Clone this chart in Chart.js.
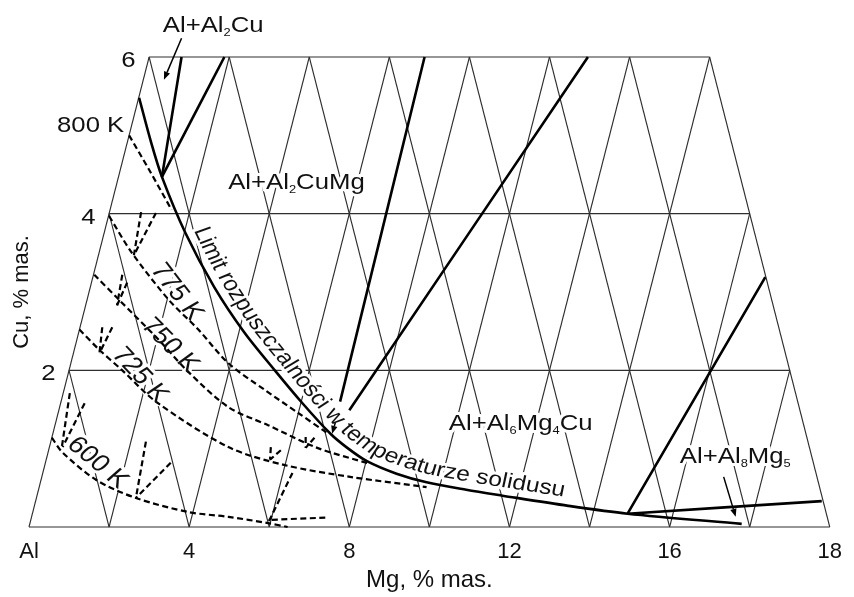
<!DOCTYPE html>
<html>
<head>
<meta charset="utf-8">
<script src="https://cdn.jsdelivr.net/npm/chart.js@4.4.1/dist/chart.umd.min.js"></script>
<style>
  html, body { margin: 0; padding: 0; background: #fff; }
</style>
</head>
<body>
<canvas id="chart" width="854" height="597"></canvas>
<script>
// x = Mg position in diagram units (bottom nodes every 2), y = Cu, % mas.
const xTickValues = [0, 4, 8, 12, 16, 20];
const xTickLabels = ["Al", "4", "8", "12", "16", "18"];
const cuLevels = [0, 2, 4, 6];
const cuTickLabels = ["2", "4", "6"];
const gridNodes = [0, 2, 4, 6, 8, 10, 12, 14, 16, 18, 20];

// solubility limit at the solidus temperature
const solidus = [[2.75, 5.48], [3.05, 4.91], [3.32, 4.47], [3.91, 3.75], [4.63, 3.06], [5.37, 2.49],
  [6.14, 2.00], [6.83, 1.58], [7.53, 1.19], [7.95, 1.01], [8.44, 0.84], [9.18, 0.68],
  [9.93, 0.57], [10.92, 0.475], [11.83, 0.40], [13.47, 0.27], [14.95, 0.17], [17.80, 0.04]];

// isotherms (dashed)
const k800 = [[2.50, 5.00], [3.00, 4.56], [3.56, 4.05]];
const k775 = [[2.00, 3.97], [2.57, 3.50], [3.49, 2.90], [4.23, 2.52], [4.98, 2.09], [5.89, 1.75], [6.71, 1.46], [7.45, 1.20]];
const k750 = [[1.63, 3.22], [2.25, 2.90], [3.24, 2.39], [3.98, 1.98], [4.98, 1.53], [5.97, 1.30], [7.20, 1.01], [8.49, 0.81]];
const k725 = [[1.26, 2.52], [1.76, 2.26], [2.33, 2.00], [3.17, 1.60], [4.98, 1.02], [6.39, 0.79], [8.02, 0.64], [9.93, 0.51]];
const k600 = [[0.57, 1.14], [0.84, 0.95], [1.68, 0.60], [2.67, 0.37], [3.99, 0.19], [4.98, 0.13], [5.97, 0.05], [6.46, 0.00]];

// short dashed tie lines
const ties = [
  [[2.80, 4.02], [2.62, 3.47]], [[3.17, 4.01], [2.62, 3.47]],
  [[2.33, 3.22], [2.20, 2.83]], [[2.45, 3.12], [2.20, 2.83]],
  [[1.83, 2.55], [1.76, 2.22]], [[2.08, 2.55], [1.76, 2.22]],
  [[1.02, 1.71], [0.82, 1.02]], [[1.39, 1.58], [0.84, 1.02]],
  [[2.92, 1.09], [2.67, 0.37]], [[3.54, 0.82], [2.67, 0.37]],
  [[6.91, 1.15], [6.91, 1.01]], [[7.13, 1.14], [6.91, 1.01]],
  [[6.04, 1.02], [6.02, 0.86]], [[6.29, 0.98], [6.02, 0.86]],
  [[6.58, 0.69], [5.97, 0.05]], [[7.40, 0.12], [5.97, 0.09]]
];

// phase boundaries (thick)
const line1 = [[3.32, 4.47], [3.81, 6.00]];
const line2 = [[3.32, 4.47], [4.88, 6.00]];
const line3 = [[7.77, 1.60], [9.88, 6.00]];
const line4 = [[8.00, 1.49], [13.96, 6.00]];
const line5 = [[14.95, 0.17], [18.39, 3.19]];
const line6 = [[14.95, 0.17], [19.80, 0.33]];

const arrows = [
  [[3.81, 6.24], [3.37, 5.71]],
  [[17.35, 0.64], [17.65, 0.13]],
  [[7.65, 1.33], [7.57, 1.19]]
];

const phaseLabels = [
  { parts: [["Al+Al"], ["2", 1], ["Cu"]], at: [4.60, 6.32] },
  { parts: [["Al+Al"], ["2", 1], ["CuMg"]], at: [6.68, 4.32] },
  { parts: [["Al+Al"], ["6", 1], ["Mg"], ["4", 1], ["Cu"]], at: [12.28, 1.24] },
  { parts: [["Al+Al"], ["8", 1], ["Mg"], ["5", 1]], at: [17.64, 0.82] }
];
const isoLabels = [
  { text: "775 K", at: [3.69, 3.00], angle: 52 },
  { text: "750 K", at: [3.52, 2.32], angle: 45 },
  { text: "725 K", at: [2.77, 1.94], angle: 47 },
  { text: "600 K", at: [1.71, 0.82], angle: 39.5 }
];
const curveText = "Limit rozpuszczalności w temperaturze solidusu";

const FONT = '"Liberation Sans", Arial, Helvetica, sans-serif';
const S = 1.17; // lettering in the original is stretched horizontally

Chart.defaults.font.family = FONT;
Chart.defaults.color = "#111";

const toXY = pts => pts.map(p => ({ x: p[0], y: p[1] }));

function gridSegments() {
  const xMax = gridNodes[gridNodes.length - 1];
  const cMax = cuLevels[cuLevels.length - 1];
  const segs = [];
  cuLevels.forEach(c => segs.push([[c / 2, c], [xMax - c / 2, c]]));
  gridNodes.forEach(u0 => {
    const cr = Math.min(cMax, xMax - u0);
    if (cr > 0) segs.push([[u0, 0], [u0 + cr / 2, cr]]);
    const cl = Math.min(cMax, u0);
    if (cl > 0) segs.push([[u0, 0], [u0 - cl / 2, cl]]);
  });
  return segs;
}

const datasets = [];
gridSegments().forEach(s => datasets.push({
  data: toXY(s), isGrid: true, showLine: true, borderColor: "#2e2e2e", borderWidth: 1.1,
  pointRadius: 0, order: 3, clip: false
}));

const thick = pts => ({ data: toXY(pts), showLine: true, borderColor: "#000", borderWidth: 2.6,
  pointRadius: 0, order: 1, clip: false, tension: 0.3 });
const dashed = pts => ({ data: toXY(pts), showLine: true, borderColor: "#000", borderWidth: 2.2,
  borderDash: [6, 3.5], pointRadius: 0, order: 2, clip: false, tension: 0.3 });

const solidusIndex = datasets.length;
datasets.push(thick(solidus));
[line1, line2, line3, line4, line5, line6].forEach(l => datasets.push(thick(l)));
[k800, k775, k750, k725, k600].forEach(k => datasets.push(dashed(k)));
ties.forEach(t => { const d = dashed(t); d.tension = 0; datasets.push(d); });

function P(chart, p) {
  return [chart.scales.x.getPixelForValue(p[0]), chart.scales.y.getPixelForValue(p[1])];
}

function paint(ctx, text, x, y, mode) {
  if (mode === "halo") ctx.strokeText(text, x, y); else ctx.fillText(text, x, y);
}

function drawRich(ctx, parts, x, y, size, align, mode) {
  const fonts = parts.map(p => (p[1] ? Math.round(size * 0.52) : size) + "px " + FONT);
  const widths = parts.map((p, i) => { ctx.font = fonts[i]; return ctx.measureText(p[0]).width; });
  const w = widths.reduce((a, b) => a + b, 0);
  ctx.save();
  ctx.translate(x, y);
  ctx.scale(S, 1);
  ctx.textAlign = "left";
  ctx.textBaseline = "alphabetic";
  let cx = align === "center" ? -w / 2 : align === "right" ? -w : 0;
  parts.forEach((p, i) => {
    ctx.font = fonts[i];
    paint(ctx, p[0], cx, p[1] ? size * 0.2 : 0, mode);
    cx += widths[i];
  });
  ctx.restore();
}

function drawRotated(ctx, text, x, y, angle, size, mode) {
  const a = Math.atan2(S * Math.sin(angle), Math.cos(angle));
  ctx.save();
  ctx.translate(x, y);
  ctx.scale(S, 1);
  ctx.rotate(a);
  ctx.font = size + "px " + FONT;
  ctx.textAlign = "center";
  ctx.textBaseline = "middle";
  paint(ctx, text, 0, 0, mode);
  ctx.restore();
}

// dense pixel path of the solidus, from the line element's own control points
function solidusPath(chart, offset) {
  const pts = chart.getDatasetMeta(solidusIndex).data;
  const raw = [];
  for (let i = 0; i < pts.length - 1; i++) {
    const a = pts[i], b = pts[i + 1];
    const c1x = a.cp2x ?? a.x, c1y = a.cp2y ?? a.y, c2x = b.cp1x ?? b.x, c2y = b.cp1y ?? b.y;
    for (let k = 0; k < 24; k++) {
      const t = k / 24, m = 1 - t;
      raw.push([m * m * m * a.x + 3 * m * m * t * c1x + 3 * m * t * t * c2x + t * t * t * b.x,
                m * m * m * a.y + 3 * m * m * t * c1y + 3 * m * t * t * c2y + t * t * t * b.y]);
    }
  }
  const last = pts[pts.length - 1];
  raw.push([last.x, last.y]);
  const out = raw.map((p, i) => {
    const q0 = raw[Math.max(0, i - 3)], q1 = raw[Math.min(raw.length - 1, i + 3)];
    const dx = q1[0] - q0[0], dy = q1[1] - q0[1], l = Math.hypot(dx, dy) || 1;
    return [p[0] + offset * dy / l, p[1] - offset * dx / l];
  });
  const len = [0];
  for (let i = 1; i < out.length; i++) len.push(len[i - 1] + Math.hypot(out[i][0] - out[i - 1][0], out[i][1] - out[i - 1][1]));
  return { out, len };
}

function pathAt(path, s) {
  const { out, len } = path;
  let i = 1;
  while (i < len.length - 1 && len[i] < s) i++;
  const p0 = out[i - 1], p1 = out[i];
  const t = (s - len[i - 1]) / ((len[i] - len[i - 1]) || 1);
  const j0 = out[Math.max(0, i - 4)], j1 = out[Math.min(out.length - 1, i + 3)];
  return { x: p0[0] + (p1[0] - p0[0]) * t, y: p0[1] + (p1[1] - p0[1]) * t,
           a: Math.atan2(j1[1] - j0[1], j1[0] - j0[0]) };
}

function drawCurveText(chart, mode) {
  const ctx = chart.ctx;
  const size = 21;
  const path = solidusPath(chart, 8.5);
  ctx.font = size + "px " + FONT;
  let s = 143;
  for (const ch of curveText) {
    const w = ctx.measureText(ch).width;
    const q = pathAt(path, s + w / 2);
    const a2 = Math.atan2(S * Math.sin(q.a), Math.cos(q.a));
    const f = Math.hypot(S * Math.cos(a2), Math.sin(a2));
    const mid = pathAt(path, s + w * f / 2);
    const am = Math.atan2(S * Math.sin(mid.a), Math.cos(mid.a));
    ctx.save();
    ctx.translate(mid.x, mid.y);
    ctx.scale(S, 1);
    ctx.rotate(am);
    ctx.textAlign = "center";
    ctx.textBaseline = "alphabetic";
    paint(ctx, ch, 0, 0, mode);
    ctx.restore();
    s += w * f;
  }
}

function drawTexts(chart, mode) {
  const ctx = chart.ctx;
  ctx.save();
  ctx.fillStyle = "#111";
  ctx.strokeStyle = "#fff";
  ctx.lineWidth = 6;
  ctx.lineJoin = "round";
  phaseLabels.forEach(l => {
    const [x, y] = P(chart, l.at);
    drawRich(ctx, l.parts, x, y, 22, "center", mode);
  });
  isoLabels.forEach(l => {
    const [x, y] = P(chart, l.at);
    drawRotated(ctx, l.text, x, y, l.angle * Math.PI / 180, 24, mode);
  });
  if (mode === "fill") {
    cuTickLabels.forEach((t, i) => {
      const c = cuLevels[i + 1];
      const [x, y] = P(chart, [c / 2, c]);
      drawRich(ctx, [[t]], x - 13.5, y + 10, 22, "right", mode);
    });
    const [kx, ky] = P(chart, [2.38, 5.04]);
    drawRich(ctx, [["800 K"]], kx, ky, 22, "right", mode);
  }
  drawCurveText(chart, mode);
  ctx.restore();
}

function drawArrows(chart) {
  const ctx = chart.ctx;
  ctx.save();
  ctx.strokeStyle = "#000";
  ctx.fillStyle = "#000";
  ctx.lineWidth = 1.5;
  arrows.forEach(([from, to]) => {
    const [x1, y1] = P(chart, from), [x2, y2] = P(chart, to);
    const a = Math.atan2(y2 - y1, x2 - x1);
    const hl = 8, hw = 3.2;
    const bx = x2 - hl * Math.cos(a), by = y2 - hl * Math.sin(a);
    ctx.beginPath(); ctx.moveTo(x1, y1); ctx.lineTo(bx, by); ctx.stroke();
    ctx.beginPath();
    ctx.moveTo(x2, y2);
    ctx.lineTo(bx + hw * Math.sin(a), by - hw * Math.cos(a));
    ctx.lineTo(bx - hw * Math.sin(a), by + hw * Math.cos(a));
    ctx.closePath();
    ctx.fill();
  });
  ctx.restore();
}

const annotate = {
  id: "annotate",
  beforeDatasetsDraw(chart) { chart.$haloDone = false; },
  beforeDatasetDraw(chart, args) {
    if (!chart.$haloDone && !chart.data.datasets[args.index].isGrid) {
      drawTexts(chart, "halo");
      chart.$haloDone = true;
    }
  },
  afterDatasetsDraw(chart) {
    drawArrows(chart);
    drawTexts(chart, "fill");
  }
};

new Chart(document.getElementById("chart"), {
  type: "scatter",
  data: { datasets },
  plugins: [annotate],
  options: {
    responsive: false,
    animation: false,
    devicePixelRatio: 1,
    layout: { padding: { top: 57, right: 17, left: 0, bottom: 0 } },
    plugins: { legend: { display: false }, tooltip: { enabled: false } },
    scales: {
      x: {
        type: "linear", min: 0, max: 20,
        afterFit: s => { s.height = 70; },
        grid: { display: false, drawTicks: false },
        border: { display: false },
        ticks: {
          stepSize: 4, autoSkip: false, maxRotation: 0, padding: 12,
          color: "#111", font: { size: 22 },
          callback: v => { const i = xTickValues.indexOf(v); return i < 0 ? "" : xTickLabels[i]; }
        },
        title: { display: true, text: "Mg, % mas.", color: "#111", font: { size: 24 }, padding: { top: 0, bottom: 2 } }
      },
      y: {
        type: "linear", min: 0, max: 6,
        afterFit: s => { s.width = 29; },
        grid: { display: false, drawTicks: false },
        border: { display: false },
        ticks: { display: false },
        title: { display: true, text: "Cu, % mas.", color: "#111", font: { size: 22 }, padding: { top: 9, bottom: 0 } }
      }
    }
  }
});
</script>
</body>
</html>
